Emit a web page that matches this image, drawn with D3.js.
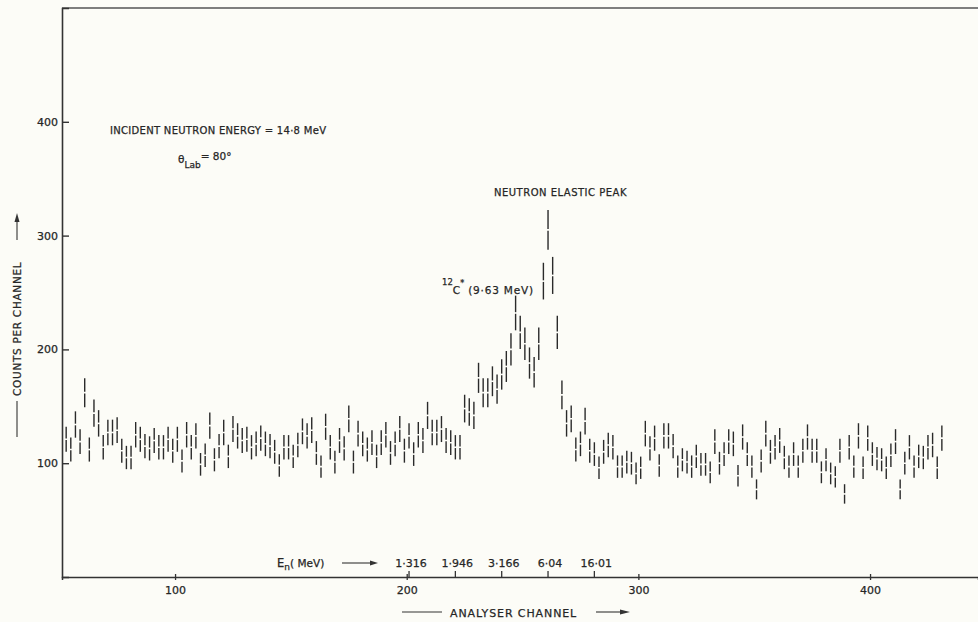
<!DOCTYPE html>
<html>
<head>
	<meta charset="utf-8">
	<script src="https://cdn.jsdelivr.net/npm/d3@7"></script>
	<style>
		html, body {
			padding: 0;
			margin: 0;
			background: #fcfcf7;
		}
		svg text {
			font-family: "DejaVu Sans", sans-serif;
			fill: #262626;
			stroke: #262626;
			stroke-width: 0.25px;
		}
	</style>
</head>
<body>
	<div id="chart"></div>
	<script>
		// one point every second analyser channel, starting at channel 53
		var firstChannel = 53;
		var channelStep = 2;

		// counts per channel
		var countsLow = [121,112,134,119,162,112,144,135,114,127,
			127,129,111,105,105,125,121,115,113,120,
			114,114,121,111,121,102,125,114,124,99,
			107,133,103,115,127,106,130,124,120,121,
			114,117,122,117,115,110,98,114,114,106,
			116,128,124,129,109,97,132,114,101,120,
			113,139,101,126,117,112,118,106,118,125,
			109,117,130,111,124,108,125,120,142,127,
			127,130,120,118,114,114,148,145,142,175,
			162,162];
		var countsPeak = [172,165,178,185,200,232,215,205,188,180,205,260,305,265,215];
		var countsHigh = [160,135,139,112,117,137,111,108,96,110,
			116,114,97,97,101,100,91,96,126,113,
			122,98,124,124,115,97,103,101,97,106,
			99,99,92,119,100,108,119,117,89,123,
			108,97,77,102,126,110,114,120,105,97,
			108,97,111,123,111,111,92,103,91,88,
			111,73,114,97,124,96,122,108,104,103,
			96,107,119,77,100,114,97,106,105,114,
			116,96,122];

		var xTicks = [100, 200, 300, 400];
		var yTicks = [100, 200, 300, 400];
		var energyChannels = [201, 221, 241, 261, 281];
		var energyLabels = ["1·316", "1·946", "3·166", "6·04", "16·01"];

		var width = 978, height = 622;
		var ink = "#333";

		var counts = countsLow.concat(countsPeak, countsHigh);
		var points = counts.map(function(v, i) {
			return {c: firstChannel + i * channelStep, v: v, e: Math.sqrt(v)};
		});

		var x = d3.scaleLinear().domain([51.2, 446.6]).range([62, 978]);
		var y = d3.scaleLinear().domain([0, 500]).range([577, 8]);

		var svg = d3.select("#chart").append("svg")
			.attr("width", width)
			.attr("height", height)
			.style("background-color", "#fcfcf7");

		// frame: top, left and bottom lines
		svg.append("line").attr("x1", x.range()[0]).attr("x2", x.range()[1])
			.attr("y1", y(500)).attr("y2", y(500))
			.attr("stroke", "#555").attr("stroke-width", 1.3);

		var yAxis = d3.axisLeft(y).tickValues(yTicks).tickSize(-7).tickPadding(5).tickFormat(d3.format("d"));
		var gy = svg.append("g").attr("transform", "translate(" + x.range()[0] + ",0)").call(yAxis);
		gy.select(".domain").attr("stroke", ink).attr("stroke-width", 1.6);
		gy.selectAll(".tick line").attr("stroke", ink).attr("stroke-width", 1.4);
		gy.selectAll(".tick text").attr("font-size", 11).attr("x", -4).attr("fill", "#262626");

		var xAxis = d3.axisBottom(x).tickValues(xTicks).tickSize(3).tickPadding(6).tickFormat(d3.format("d"));
		var gx = svg.append("g").attr("transform", "translate(0," + y(0) + ")").call(xAxis);
		gx.select(".domain").attr("stroke", ink).attr("stroke-width", 1.5);
		gx.selectAll(".tick line").attr("stroke", ink).attr("stroke-width", 1.3).attr("y1", -3);
		gx.selectAll(".tick text").attr("font-size", 11).attr("fill", "#262626");

		// energy markers above the channel axis
		svg.selectAll(".eTick")
			.data(energyChannels)
			.enter().append("line")
			.attr("class", "eTick")
			.attr("x1", function(d) { return x(d); })
			.attr("x2", function(d) { return x(d); })
			.attr("y1", y(0)).attr("y2", y(0) - 6)
			.attr("stroke", ink).attr("stroke-width", 1.3);

		svg.selectAll(".eLabel")
			.data(energyLabels)
			.enter().append("text")
			.attr("class", "eLabel")
			.attr("x", function(d, i) { return x(energyChannels[i]) + 2; })
			.attr("y", y(0) - 10)
			.attr("text-anchor", "middle")
			.attr("font-size", 11)
			.text(function(d) { return d; });

		var en = svg.append("text").attr("x", 277).attr("y", 567).attr("font-size", 11.5);
		en.append("tspan").text("E");
		en.append("tspan").attr("font-size", 9).attr("dy", 3).text("n");
		en.append("tspan").attr("dy", -3).attr("font-size", 10.5).text("( MeV)");
		svg.append("line").attr("x1", 342).attr("x2", 372).attr("y1", 563).attr("y2", 563)
			.attr("stroke", ink).attr("stroke-width", 1.1);
		svg.append("path").attr("d", "M370,560.5 L378,563 L370,565.5 Z").attr("fill", ink);

		// axis titles
		svg.append("line").attr("x1", 402).attr("x2", 442).attr("y1", 612).attr("y2", 612)
			.attr("stroke", ink).attr("stroke-width", 1.1);
		svg.append("text").attr("x", 450).attr("y", 616.5).attr("font-size", 11)
			.attr("letter-spacing", 0.9).text("ANALYSER CHANNEL");
		svg.append("line").attr("x1", 596).attr("x2", 622).attr("y1", 612).attr("y2", 612)
			.attr("stroke", ink).attr("stroke-width", 1.1);
		svg.append("path").attr("d", "M620,609.5 L630,612 L620,614.5 Z").attr("fill", ink);

		var yt = svg.append("g").attr("transform", "translate(17,325) rotate(-90)");
		yt.append("line").attr("x1", -112).attr("x2", -76).attr("y1", 0).attr("y2", 0)
			.attr("stroke", ink).attr("stroke-width", 1.1);
		yt.append("text").attr("x", -71).attr("y", 4).attr("font-size", 10.5)
			.attr("letter-spacing", 0.7).text("COUNTS PER CHANNEL");
		yt.append("line").attr("x1", 85).attr("x2", 105).attr("y1", 0).attr("y2", 0)
			.attr("stroke", ink).attr("stroke-width", 1.1);
		yt.append("path").attr("d", "M103,-2.5 L112,0 L103,2.5 Z").attr("fill", ink);

		// annotations
		svg.append("text").attr("x", 110).attr("y", 134).attr("font-size", 10)
			.attr("letter-spacing", 0.3).text("INCIDENT NEUTRON ENERGY = 14·8 MeV");
		var th = svg.append("text").attr("x", 178).attr("y", 163).attr("font-size", 10.5);
		th.append("tspan").text("θ");
		th.append("tspan").attr("dy", 5).attr("font-size", 9).text("Lab");
		th.append("tspan").attr("dy", -8).text("= 80°");

		svg.append("text").attr("x", 494).attr("y", 196).attr("font-size", 10)
			.attr("letter-spacing", 0.5).text("NEUTRON ELASTIC PEAK");
		var cx = svg.append("text").attr("x", 442).attr("y", 294).attr("font-size", 10.5);
		cx.append("tspan").attr("font-size", 8.5).attr("dy", -9).text("12");
		cx.append("tspan").attr("dy", 9).text("C");
		cx.append("tspan").attr("font-size", 8).attr("dy", -8).text("*");
		cx.append("tspan").attr("dy", 8).attr("dx", 4).attr("letter-spacing", 0.8).text("(9·63 MeV)");

		// error bars with a small break at each data point
		var bars = svg.append("g").attr("stroke", "#2a2a2a").attr("stroke-width", 1.4);
		bars.selectAll(".up")
			.data(points)
			.enter().append("line")
			.attr("x1", function(d) { return x(d.c); })
			.attr("x2", function(d) { return x(d.c); })
			.attr("y1", function(d) { return y(d.v + d.e); })
			.attr("y2", function(d) { return y(d.v) - 0.8; });
		bars.selectAll(".down")
			.data(points)
			.enter().append("line")
			.attr("x1", function(d) { return x(d.c); })
			.attr("x2", function(d) { return x(d.c); })
			.attr("y1", function(d) { return y(d.v) + 0.8; })
			.attr("y2", function(d) { return y(d.v - d.e); });
	</script>
</body>
</html>
